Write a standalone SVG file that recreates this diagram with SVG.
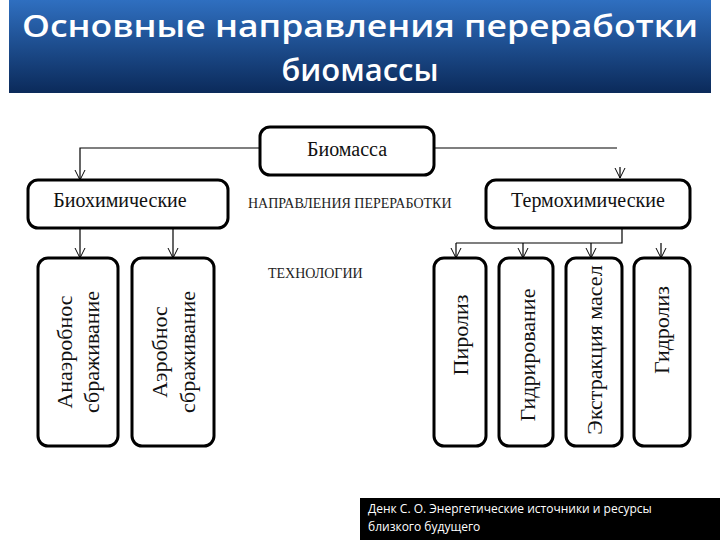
<svg xmlns="http://www.w3.org/2000/svg" width="720" height="540" viewBox="0 0 720 540">
<defs>
<linearGradient id="tg" x1="0" y1="0" x2="0" y2="1"><stop offset="0" stop-color="#2f6fc0"/><stop offset="1" stop-color="#0b2a5a"/></linearGradient>
<marker id="ar" markerWidth="12" markerHeight="12" refX="11" refY="6" orient="auto" markerUnits="userSpaceOnUse"><path d="M1,1 L11,6 L1,11" fill="none" stroke="#000" stroke-width="1"/></marker>
<style>
.b{fill:#fff;stroke:#000;stroke-width:3}
.t{font-family:"Liberation Serif",serif;font-size:20px;fill:#111;text-anchor:middle}
.u{font-family:"Liberation Serif",serif;font-size:22px;fill:#111;text-anchor:middle}
.s{font-family:"Liberation Serif",serif;font-size:14px;fill:#222}
.c{fill:none;stroke:#000;stroke-width:1.2}
</style>
</defs>
<rect x="9" y="0" width="702" height="93" fill="url(#tg)"/>
<g font-family="'Open Sans','DejaVu Sans',sans-serif" font-size="31" font-weight="600" fill="#fff" text-anchor="middle">
<text x="360" y="37" textLength="676" lengthAdjust="spacingAndGlyphs">Основные направления переработки</text>
<text x="360" y="81">биомассы</text>
</g>
<g id="connectors">
<path class="c" d="M260,148 H80 V180" marker-end="url(#ar)"/>
<path class="c" d="M434,148 H617"/>
<path class="c" d="M620,167 V178" marker-end="url(#ar)"/>
<path class="c" d="M80,228 V258" marker-end="url(#ar)"/>
<path class="c" d="M173,228 V258" marker-end="url(#ar)"/>
<path class="c" d="M622,228 V243 H456"/>
<path class="c" d="M456,243 V258" marker-end="url(#ar)"/>
<path class="c" d="M523,243 V258" marker-end="url(#ar)"/>
<path class="c" d="M591,243 V258" marker-end="url(#ar)"/>
<path class="c" d="M661,243 V258" marker-end="url(#ar)"/>
</g>
<g id="biomass"><rect class="b" x="260" y="127" width="174" height="48" rx="10"/><text class="t" x="347" y="156">Биомасса</text></g>
<g id="biochem"><rect class="b" x="28" y="180" width="200" height="48" rx="10"/><text class="t" x="120" y="207">Биохимические</text></g>
<g id="thermo"><rect class="b" x="486" y="180" width="204" height="48" rx="10"/><text class="t" x="588" y="207">Термохимические</text></g>
<text class="s" x="248" y="208">НАПРАВЛЕНИЯ  ПЕРЕРАБОТКИ</text>
<text class="s" x="268" y="278">ТЕХНОЛОГИИ</text>
<g id="anaerob"><rect class="b" x="38" y="258" width="80" height="188" rx="10"/>
<text class="u" transform="translate(72,352) rotate(-90)">Анаэробнос</text>
<text class="u" transform="translate(99,352) rotate(-90)">сбраживание</text></g>
<g id="aerob"><rect class="b" x="132" y="258" width="82" height="188" rx="10"/>
<text class="u" transform="translate(167,352) rotate(-90)">Аэробнос</text>
<text class="u" transform="translate(195,352) rotate(-90)">сбраживание</text></g>
<g id="piroliz"><rect class="b" x="434" y="258" width="52" height="188" rx="10"/><text class="u" transform="translate(468,335) rotate(-90)">Пиролиз</text></g>
<g id="gidrir"><rect class="b" x="499" y="258" width="54" height="188" rx="10"/><text class="u" transform="translate(535,355) rotate(-90)">Гидрирование</text></g>
<g id="extr"><rect class="b" x="566" y="258" width="56" height="188" rx="10"/><text class="u" transform="translate(602,350) rotate(-90)">Экстракция масел</text></g>
<g id="gidroliz"><rect class="b" x="634" y="258" width="56" height="188" rx="10"/><text class="u" transform="translate(669,330) rotate(-90)">Гидролиз</text></g>
<rect x="360" y="498" width="360" height="42" fill="#000"/>
<g font-family="'Open Sans','DejaVu Sans',sans-serif" font-size="12" fill="#fff">
<text x="368" y="513">Денк С. О. Энергетические источники и ресурсы</text>
<text x="368" y="531">близкого будущего</text>
</g>
</svg>
